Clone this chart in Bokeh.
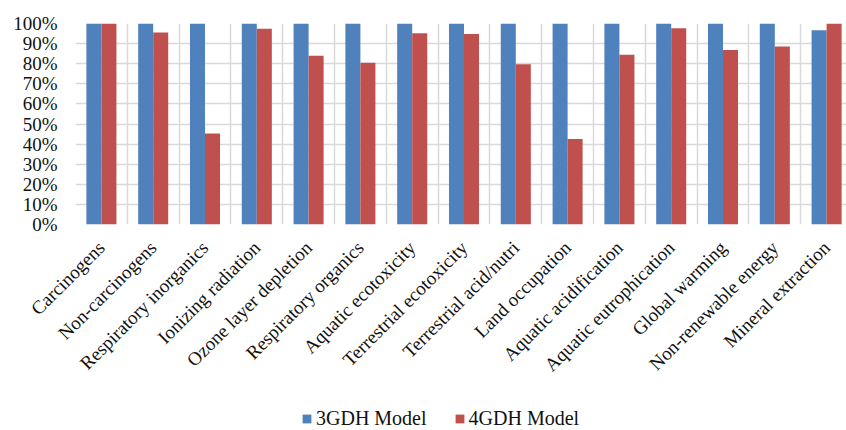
import math
from bokeh.plotting import figure
from bokeh.layouts import column
from bokeh.models import Range1d, FixedTicker, NumeralTickFormatter, Legend, LegendItem, ColumnDataSource
from bokeh.transform import dodge
from bokeh.embed import file_html
from bokeh.resources import INLINE

categories = ["Carcinogens", "Non-carcinogens", "Respiratory inorganics", "Ionizing radiation",
              "Ozone layer depletion", "Respiratory organics", "Aquatic ecotoxicity",
              "Terrestrial ecotoxicity", "Terrestrial acid/nutri", "Land occupation",
              "Aquatic acidification", "Aquatic eutrophication", "Global warming",
              "Non-renewable energy", "Mineral extraction"]
model_3gdh = [1.0, 1.0, 1.0, 1.0, 1.0, 1.0, 1.0, 1.0, 1.0, 1.0, 1.0, 1.0, 1.0, 1.0, 0.966]
model_4gdh = [1.0, 0.955, 0.453, 0.974, 0.839, 0.805, 0.951, 0.948, 0.797, 0.425,
              0.844, 0.976, 0.868, 0.885, 1.0]
y_ticks = [0.0, 0.1, 0.2, 0.3, 0.4, 0.5, 0.6, 0.7, 0.8, 0.9, 1.0]
series_names = ["3GDH Model", "4GDH Model"]
colors = ["#4F81BD", "#C0504D"]

n = len(categories)
xs = [i + 0.5 for i in range(n)]
src = ColumnDataSource(dict(x=xs, a=model_3gdh, b=model_4gdh, cat=categories))

FONT = "Liberation Serif"
bw = 0.29

chart = figure(frame_width=771, frame_height=201, x_range=Range1d(0, 14.884), y_range=Range1d(0, 1),
               output_backend="svg", toolbar_location=None,
               min_border_left=75, min_border_right=0, min_border_top=23, min_border_bottom=176)
chart.outline_line_color = None
chart.background_fill_color = "white"
chart.border_fill_color = "white"

chart.vbar(x=dodge("x", -bw / 2, range=chart.x_range), top="a", width=bw, source=src,
           fill_color=colors[0], line_color=None)
chart.vbar(x=dodge("x", bw / 2, range=chart.x_range), top="b", width=bw, source=src,
           fill_color=colors[1], line_color=None)

# grids
chart.xgrid.ticker = FixedTicker(ticks=list(range(n + 1)))
chart.ygrid.ticker = FixedTicker(ticks=y_ticks)
for g in (chart.xgrid, chart.ygrid):
    g.grid_line_color = "#d9d9d9"
    g.grid_line_width = 1.5
    g.level = "underlay"

# y axis
chart.yaxis.ticker = FixedTicker(ticks=y_ticks)
chart.yaxis.formatter = NumeralTickFormatter(format="0%")
chart.yaxis.axis_line_color = None
chart.yaxis.major_tick_line_color = None
chart.yaxis.minor_tick_line_color = None
chart.yaxis.major_tick_in = 0
chart.yaxis.major_tick_out = 0
chart.yaxis.major_label_standoff = 18
chart.yaxis.major_label_text_font = FONT
chart.yaxis.major_label_text_font_size = "19px"
chart.yaxis.major_label_text_color = "#111111"

# x axis
chart.xaxis.ticker = FixedTicker(ticks=xs)
chart.xaxis.major_label_overrides = {x: c for x, c in zip(xs, categories)}
chart.xaxis.major_label_orientation = math.pi / 4
chart.xaxis.axis_line_color = None
chart.xaxis.major_tick_line_color = None
chart.xaxis.minor_tick_line_color = None
chart.xaxis.major_tick_in = 0
chart.xaxis.major_tick_out = 0
chart.xaxis.major_label_standoff = 20
chart.xaxis.major_label_text_font = FONT
chart.xaxis.major_label_text_font_size = "19px"
chart.xaxis.major_label_text_color = "#111111"

# legend strip (a second figure whose bars lie outside its range; only the legend shows)
leg = figure(width=846, height=30, x_range=Range1d(1000, 1001), y_range=Range1d(1000, 1001),
             output_backend="svg", toolbar_location=None,
             x_axis_location=None, y_axis_location=None,
             min_border_left=0, min_border_right=0, min_border_top=0, min_border_bottom=0)
leg.outline_line_color = None
leg.grid.visible = False
l1 = leg.vbar(x="x", top="a", width=bw, source=src, fill_color=colors[0], line_color=None)
l2 = leg.vbar(x="x", top="b", width=bw, source=src, fill_color=colors[1], line_color=None)

legend = Legend(items=[LegendItem(label=series_names[0], renderers=[l1]),
                       LegendItem(label=series_names[1], renderers=[l2])],
                orientation="horizontal", location=(226, 0))
legend.label_text_font = FONT
legend.label_text_font_size = "20px"
legend.label_text_color = "#111111"
legend.glyph_width = 11
legend.glyph_height = 11
legend.label_standoff = 4
legend.spacing = 27
legend.padding = 0
legend.margin = 0
legend.border_line_color = None
legend.background_fill_alpha = 0
leg.add_layout(legend, "center")

p = column(chart, leg, spacing=0)
open("out.html", "w").write(file_html(p, INLINE))
